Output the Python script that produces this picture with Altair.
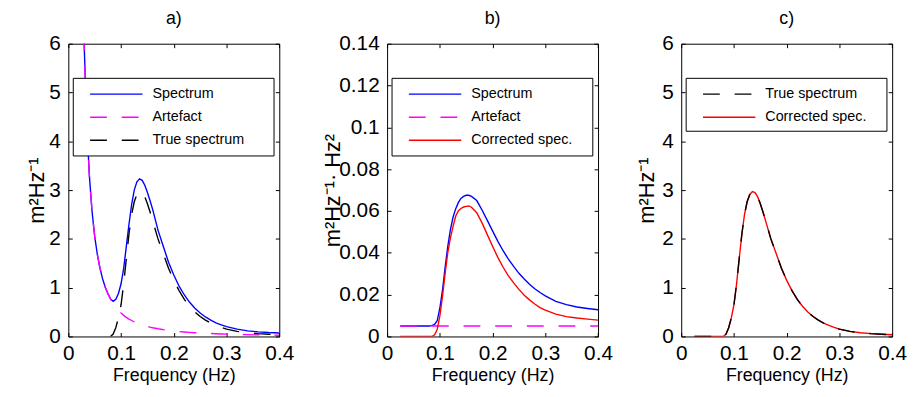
import altair as alt
import pandas as pd

# ---------------- data ----------------
FREQ = [0.025, 0.03, 0.035, 0.04, 0.045, 0.05, 0.055, 0.06, 0.065, 0.07,
        0.075, 0.08, 0.085, 0.09, 0.095, 0.1, 0.105, 0.11, 0.115, 0.12,
        0.125, 0.13, 0.135, 0.14, 0.145, 0.15, 0.155,
        0.16, 0.17, 0.18, 0.19, 0.2, 0.21, 0.22, 0.23, 0.24, 0.25,
        0.26, 0.27, 0.28, 0.29, 0.3,
        0.32, 0.34, 0.36, 0.38, 0.4]

# panel a (m^2 Hz^-1)
SPECTRUM = [8.8, 6.0, 4.34, 3.28, 2.56, 2.05, 1.68, 1.40, 1.18, 1.01,
            0.88, 0.77, 0.72, 0.76, 0.88, 1.08, 1.4, 1.85, 2.3, 2.7,
            3.0, 3.17, 3.23, 3.2, 3.1, 2.95, 2.78,
            2.6, 2.18, 1.85, 1.52, 1.26, 1.03, 0.85, 0.7, 0.58, 0.48,
            0.4, 0.335, 0.28, 0.236, 0.2,
            0.15, 0.115, 0.095, 0.08, 0.07]
ARTEFACT = [8.8, 6.0, 4.34, 3.28, 2.56, 2.05, 1.68, 1.40, 1.18, 1.01,
            0.876, 0.765, 0.674, 0.598, 0.533, 0.479, 0.432, 0.392, 0.357, 0.327,
            0.30, 0.276, 0.255, 0.236, 0.219, 0.204, 0.19,
            0.178, 0.157, 0.139, 0.124, 0.112, 0.101, 0.092, 0.084, 0.077, 0.070,
            0.065, 0.060, 0.055, 0.051, 0.048,
            0.042, 0.037, 0.032, 0.029, 0.026]
TRUE_SPEC = [0, 0, 0, 0, 0, 0, 0, 0, 0, 0,
             0, 0, 0.05, 0.18, 0.38, 0.65, 1.08, 1.6, 2.1, 2.5,
             2.76, 2.91, 2.97, 2.95, 2.86, 2.72, 2.55,
             2.37, 2.0, 1.7, 1.4, 1.15, 0.94, 0.76, 0.62, 0.5, 0.41,
             0.335, 0.275, 0.225, 0.185, 0.15,
             0.105, 0.075, 0.057, 0.045, 0.035]

# panel b (m^2 Hz^-1 . Hz^2)
SPEC_WEIGHTED = [0.005, 0.005, 0.005, 0.005, 0.005, 0.005, 0.005, 0.005, 0.005, 0.005,
                 0.005, 0.005, 0.0052, 0.0058, 0.0075, 0.0135, 0.022, 0.033, 0.043, 0.051,
                 0.057, 0.061, 0.064, 0.066, 0.067, 0.0675, 0.0675,
                 0.067, 0.065, 0.0605, 0.0555, 0.0505, 0.0455, 0.041, 0.037, 0.0335, 0.0302,
                 0.0275, 0.025, 0.0228, 0.021, 0.0194,
                 0.0168, 0.0152, 0.0141, 0.0134, 0.0128]
CORR_WEIGHTED = [0, 0, 0, 0, 0, 0, 0, 0, 0, 0,
                 0, 0, 0, 0.0008, 0.0033, 0.0097, 0.019, 0.030, 0.040, 0.047,
                 0.0525, 0.0575, 0.0600, 0.0612, 0.0619, 0.0622, 0.0624,
                 0.0618, 0.0592, 0.0543, 0.0487, 0.0431, 0.0378, 0.0331, 0.029, 0.0256, 0.0225,
                 0.0197, 0.0175, 0.0155, 0.0138, 0.0126,
                 0.0107, 0.0095, 0.0088, 0.0083, 0.0078]
ART_W_FREQ = [0.025, 0.4]
ART_WEIGHTED = [0.005, 0.005]

# panel c (m^2 Hz^-1)
CORRECTED = [0, 0, 0, 0, 0, 0, 0, 0, 0, 0,
             0, 0, 0.05, 0.18, 0.38, 0.65, 1.08, 1.6, 2.1, 2.5,
             2.76, 2.91, 2.97, 2.95, 2.86, 2.72, 2.55,
             2.37, 2.0, 1.7, 1.4, 1.15, 0.94, 0.76, 0.62, 0.5, 0.41,
             0.335, 0.275, 0.225, 0.185, 0.15,
             0.105, 0.075, 0.057, 0.045, 0.035]

X_TICKS = [0, 0.1, 0.2, 0.3, 0.4]
Y_TICKS_A = [0, 1, 2, 3, 4, 5, 6]
Y_TICKS_B = [0, 0.02, 0.04, 0.06, 0.08, 0.1, 0.12, 0.14]

# ---------------- styling ----------------
FONT = "Liberation Sans"
W, H = 213.3, 296
BLUE, MAGENTA, RED, BLACK = "#0000ff", "#ff00ff", "#ff0000", "#000000"
DASH = [17, 15]
LW = 1.4
TICK_FS = 21


def frame(xs, ys):
    return pd.DataFrame({"f": xs, "v": ys})


def make_panel(letter, series, ydomain, yticks, ytitle, ytitle_x, legend_items, box_y2):
    xscale = alt.Scale(domain=[0, 0.4], nice=False, zero=False)
    yscale = alt.Scale(domain=ydomain, nice=False, zero=False)
    common = dict(offset=-4, tickSize=4, domain=False, grid=False,
                  tickColor="black", tickWidth=1)
    x_axis = alt.Axis(values=X_TICKS, format="~g", orient="bottom", labelFlush=False,
                      labelPadding=6, labelFont=FONT, labelFontSize=TICK_FS, labelColor="black",
                      title="Frequency (Hz)", titleFont=FONT, titleFontSize=18,
                      titleFontWeight="normal", titleColor="black", titlePadding=4,
                      **common)
    y_axis = alt.Axis(values=yticks, format="~g", orient="left", labelFlush=False,
                      labelPadding=8, labelFont=FONT, labelFontSize=TICK_FS, labelColor="black",
                      title=ytitle, titleFont=FONT, titleFontSize=22,
                      titleFontWeight="normal", titleColor="black",
                      titleX=ytitle_x, titleY=H / 2, titleAngle=270,
                      titleAlign="center", titleBaseline="middle", **common)
    x_top = alt.Axis(values=X_TICKS, orient="top", labels=False, title="", **common)
    y_right = alt.Axis(values=yticks, orient="right", labels=False, title="", **common)

    layers = []
    for i, (df, color, dash) in enumerate(series):
        kw = dict(color=color, strokeWidth=LW, clip=True)
        if dash:
            kw["strokeDash"] = dash
        if i == 0:
            enc = dict(x=alt.X("f:Q", scale=xscale, axis=x_axis),
                       y=alt.Y("v:Q", scale=yscale, axis=y_axis))
        else:
            enc = dict(x=alt.X("f:Q", scale=xscale, axis=None),
                       y=alt.Y("v:Q", scale=yscale, axis=None))
        layers.append(alt.Chart(df).mark_line(**kw).encode(**enc))

    # ticks on the top and right edges
    layers.append(
        alt.Chart(series[0][0]).mark_line(opacity=0, clip=True).encode(
            x=alt.X("f:Q", scale=xscale, axis=x_top),
            y=alt.Y("v:Q", scale=yscale, axis=y_right)))

    # legend box
    one = pd.DataFrame({"k": [0]})
    layers.append(alt.Chart(one).mark_rect(fill="white", stroke="black", strokeWidth=1).encode(
        x=alt.value(5), x2=alt.value(208), y=alt.value(35), y2=alt.value(box_y2)))
    for i, (label, color, dash) in enumerate(legend_items):
        yy = 51 + 23.3 * i
        kw = dict(color=color, strokeWidth=LW)
        if dash:
            kw["strokeDash"] = dash
        layers.append(alt.Chart(one).mark_rule(**kw).encode(
            x=alt.value(22), x2=alt.value(75), y=alt.value(yy)))
        layers.append(alt.Chart(one).mark_text(
            align="left", baseline="middle", font=FONT, fontSize=14.5, color="black").encode(
            x=alt.value(85), y=alt.value(yy), text=alt.value(label)))

    return alt.layer(*layers).resolve_axis(x="independent", y="independent").properties(
        width=W, height=H,
        title=alt.TitleParams(text=letter, font=FONT, fontSize=18, fontWeight="normal",
                              color="black", anchor="middle", offset=4.5))


pa = make_panel(
    "a)",
    [(frame(FREQ, SPECTRUM), BLUE, None),
     (frame(FREQ, ARTEFACT), MAGENTA, DASH),
     (frame(FREQ[11:], TRUE_SPEC[11:]), BLACK, DASH)],
    [0, 6], Y_TICKS_A, "m²Hz⁻¹", -36,
    [("Spectrum", BLUE, None), ("Artefact", MAGENTA, DASH), ("True spectrum", BLACK, DASH)],
    113.5)

pb = make_panel(
    "b)",
    [(frame(FREQ, SPEC_WEIGHTED), BLUE, None),
     (frame(ART_W_FREQ, ART_WEIGHTED), MAGENTA, DASH),
     (frame(FREQ, CORR_WEIGHTED), RED, None)],
    [0, 0.14], Y_TICKS_B, "m²Hz⁻¹·  Hz²", -59,
    [("Spectrum", BLUE, None), ("Artefact", MAGENTA, DASH), ("Corrected spec.", RED, None)],
    113.5)

pc = make_panel(
    "c)",
    [(frame(FREQ, CORRECTED), RED, None),
     (frame(FREQ, TRUE_SPEC), BLACK, DASH)],
    [0, 6], Y_TICKS_A, "m²Hz⁻¹", -39,
    [("True spectrum", BLACK, DASH), ("Corrected spec.", RED, None)],
    88.5)

inner = alt.hconcat(pb, pc, spacing=83.4, bounds="flush")
chart = alt.hconcat(pa, inner, spacing=108.3, bounds="flush").properties(
    padding={"left": 17, "top": 0, "right": 0, "bottom": 0}
).configure_view(stroke="black", strokeWidth=1)

chart.save("out.html", embed_options={"renderer": "svg", "actions": False})
